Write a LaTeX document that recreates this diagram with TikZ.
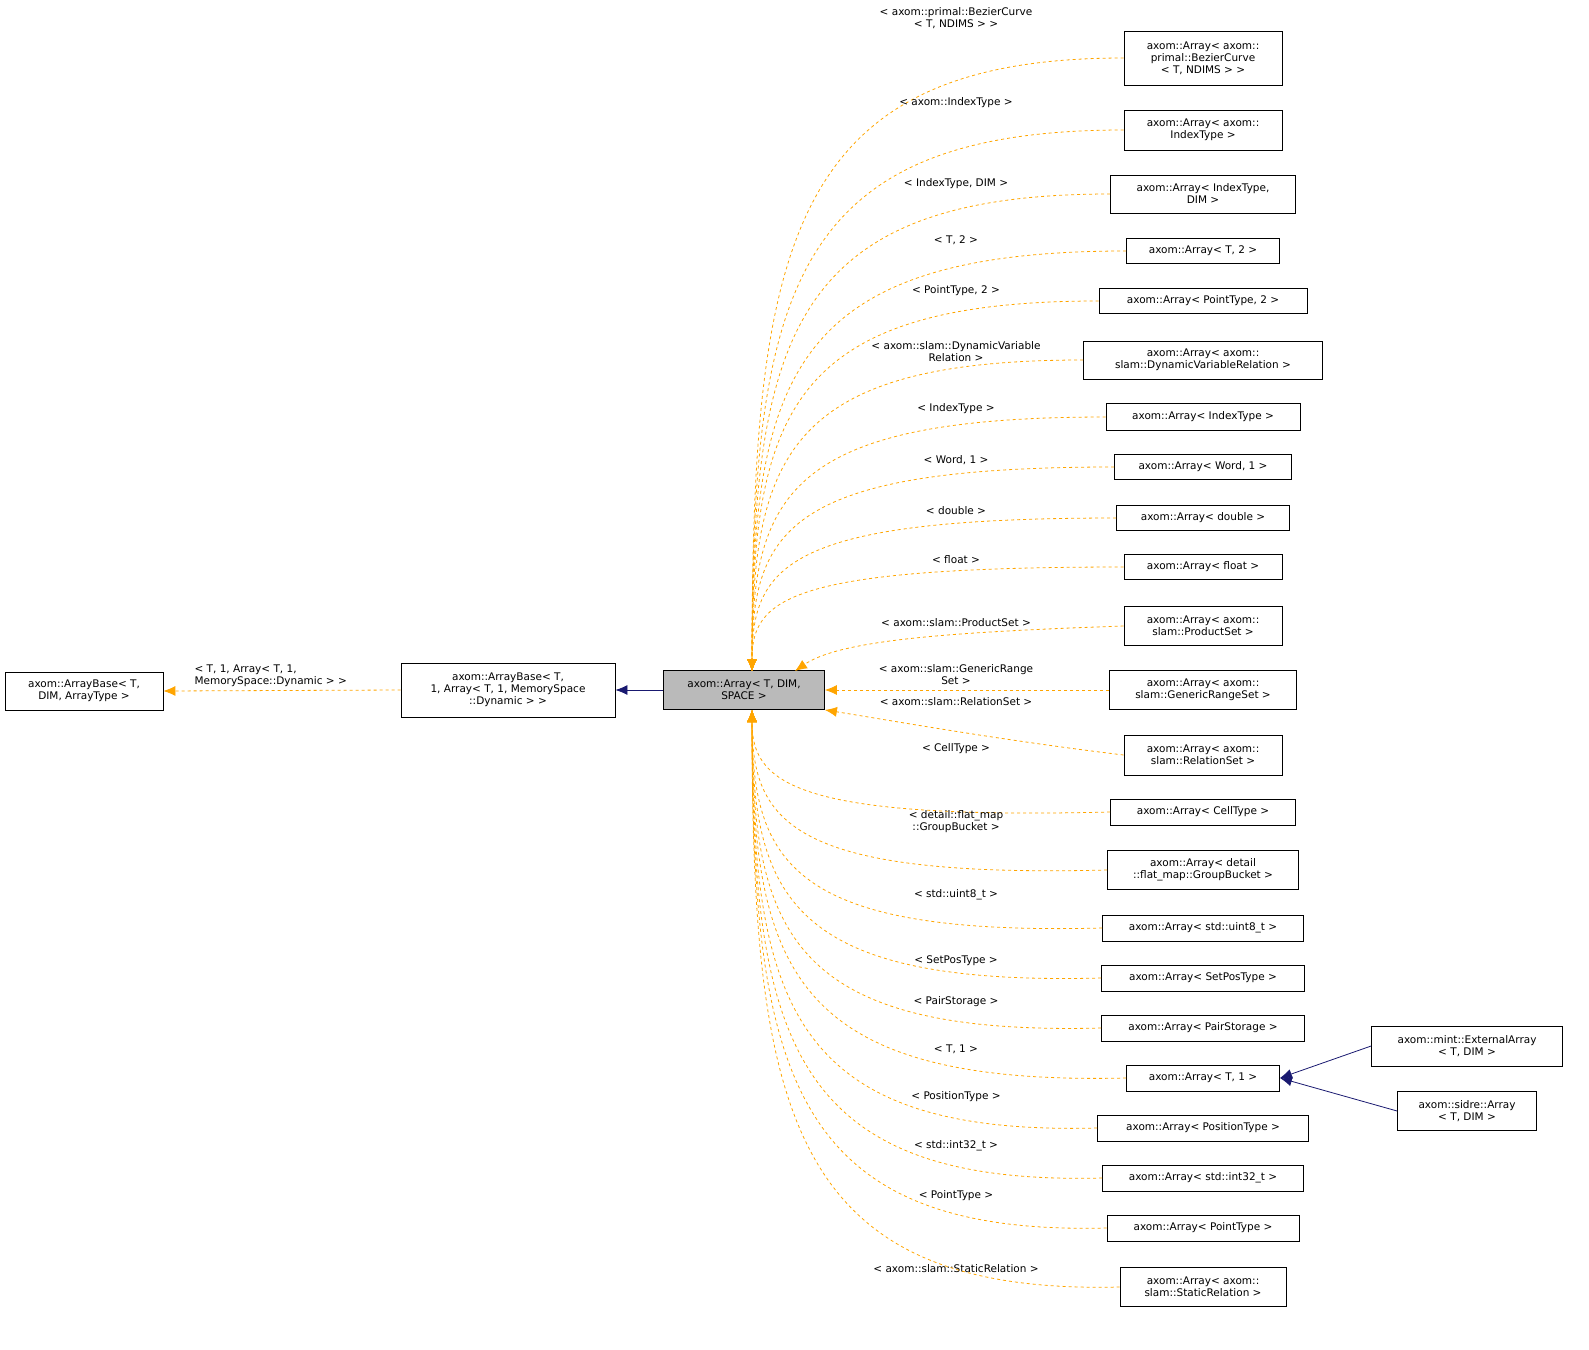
\documentclass[tikz,border=0pt]{standalone}
\usepackage{fontspec}
\setmainfont{DejaVu Sans}
\usetikzlibrary{arrows.meta}
\definecolor{dep}{HTML}{FFA500}
\definecolor{inh}{HTML}{191970}
\begin{document}
\begin{tikzpicture}[x=1pt,y=-1pt,
  box/.style={draw,thick,align=center,inner sep=0pt,font=\fontsize{10.5}{12}\selectfont},
  lab/.style={align=center,font=\fontsize{10.5}{12}\selectfont},
  depl/.style={draw=dep,dashed,thick,-{Latex[length=12pt,width=10pt]}},
  inhl/.style={draw=inh,thick,-{Latex[length=12pt,width=10pt]}}]
\node[box,minimum width=158,minimum height=38] (base) at (84,691) {axom::ArrayBase< T,\\DIM, ArrayType >};
\node[box,minimum width=214,minimum height=54] (mid) at (508,690) {axom::ArrayBase< T,\\ 1, Array< T, 1, MemorySpace\\::Dynamic > >};
\node[box,fill=black!27,minimum width=161,minimum height=39] (main) at (744,690) {axom::Array< T, DIM,\\SPACE >};
\draw[inhl] (main.west) -- (mid.east);
\draw[depl] (mid.west) -- (base.east);
\node[lab,align=left,anchor=west] (lbase) at (191,676) {< T, 1, Array< T, 1,\\MemorySpace::Dynamic > >};
\foreach \i/\y/\w/\h/\t/\ly/\l in {
1/58/158/54/{axom::Array< axom::\\primal::BezierCurve\\< T, NDIMS > >}/18/{< axom::primal::BezierCurve\\< T, NDIMS > >},
2/130/158/40/{axom::Array< axom::\\IndexType >}/103/{< axom::IndexType >},
3/194/185/38/{axom::Array< IndexType,\\DIM >}/184/{< IndexType, DIM >},
4/251/153/25/{axom::Array< T, 2 >}/240/{< T, 2 >},
5/301/208/25/{axom::Array< PointType, 2 >}/291/{< PointType, 2 >},
6/360/239/38/{axom::Array< axom::\\slam::DynamicVariableRelation >}/352/{< axom::slam::DynamicVariable\\Relation >},
7/417/194/27/{axom::Array< IndexType >}/409/{< IndexType >},
8/467/177/25/{axom::Array< Word, 1 >}/460/{< Word, 1 >},
9/518/173/25/{axom::Array< double >}/511/{< double >},
10/567/158/25/{axom::Array< float >}/560/{< float >}}
{
  \node[box,minimum width=\w,minimum height=\h] (n\i) at (1203,\y) {\t};
  \node[lab] (l\i) at (956,\ly) {\l};
  \draw[depl] (n\i.west) .. controls (790,\y) and (752,{\y+0.3*(671-\y)}) .. (752,671);
}
\foreach \i/\y/\w/\h/\t/\ly/\l in {
14/812/185/26/{axom::Array< CellType >}/749/{< CellType >},
15/870/191/39/{axom::Array< detail\\::flat\_map::GroupBucket >}/822/{< detail::flat\_map\\::GroupBucket >},
16/928/201/26/{axom::Array< std::uint8\_t >}/895/{< std::uint8\_t >},
17/978/203/26/{axom::Array< SetPosType >}/961/{< SetPosType >},
18/1028/203/26/{axom::Array< PairStorage >}/1002/{< PairStorage >},
19/1078/153/26/{axom::Array< T, 1 >}/1049/{< T, 1 >},
20/1128/211/26/{axom::Array< PositionType >}/1097/{< PositionType >},
21/1178/201/26/{axom::Array< std::int32\_t >}/1146/{< std::int32\_t >},
22/1228/192/26/{axom::Array< PointType >}/1196/{< PointType >},
23/1287/166/39/{axom::Array< axom::\\slam::StaticRelation >}/1269/{< axom::slam::StaticRelation >}}
{
  \node[box,minimum width=\w,minimum height=\h] (n\i) at (1203,\y) {\t};
  \node[lab] (l\i) at (956,\ly) {\l};
  \draw[depl] (n\i.west) .. controls (790,\y+8) and (752,{\y-0.3*(\y-710)}) .. (752,710);
}
\node[box,minimum width=158,minimum height=39] (n11) at (1203,626) {axom::Array< axom::\\slam::ProductSet >};
\node[lab] (l11) at (956,623) {< axom::slam::ProductSet >};
\draw[depl] (n11.west) .. controls (950,632) and (840,640) .. (795,671);
\node[box,minimum width=187,minimum height=39] (n12) at (1203,690) {axom::Array< axom::\\slam::GenericRangeSet >};
\node[lab] (l12) at (956,675) {< axom::slam::GenericRange\\Set >};
\draw[depl] (n12.west) -- (main.east);
\node[box,minimum width=158,minimum height=40] (n13) at (1203,755) {axom::Array< axom::\\slam::RelationSet >};
\node[lab] (l13) at (956,702) {< axom::slam::RelationSet >};
\draw[depl] (n13.west) .. controls (1000,740) and (900,722) .. (main.south east);
\node[box,minimum width=191,minimum height=40] (ext) at (1467,1046) {axom::mint::ExternalArray\\< T, DIM >};
\node[box,minimum width=139,minimum height=39] (sid) at (1467,1111) {axom::sidre::Array\\< T, DIM >};
\draw[inhl] (ext.west) -- (n19.east);
\draw[inhl] (sid.west) -- (n19.east);
\pgfresetboundingbox
\path[use as bounding box] (0,0) rectangle (1589,1349);
\end{tikzpicture}
\end{document}
